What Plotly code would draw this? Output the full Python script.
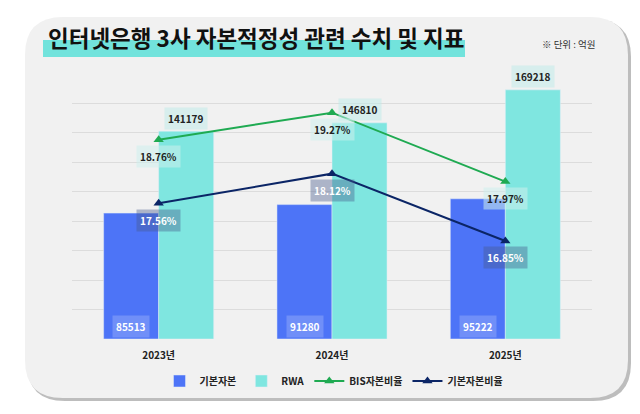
import plotly.graph_objects as go

# data
years = ["2023년", "2024년", "2025년"]
base_capital = [85513, 91280, 95222]
rwa = [141179, 146810, 169218]
bis_ratio = [18.76, 19.27, 17.97]
base_ratio = [17.56, 18.12, 16.85]

FONT = "Noto Sans CJK KR"
BLUE = "#4d74f7"
TEAL = "#7fe6e0"
GREEN = "#1faa52"
NAVY = "#0b2566"

# plot area in pixels (640x414 page)
L, R, T, B = 72, 592, 74, 339


def px(x):
    return (x - L) / (R - L)


def py(y):
    return (B - y) / (B - T)


def rounded_rect(x0, y0, x1, y1, r):
    pts = [
        ("M", [(x0 + r, y0)]), ("L", [(x1 - r, y0)]), ("Q", [(x1, y0), (x1, y0 + r)]),
        ("L", [(x1, y1 - r)]), ("Q", [(x1, y1), (x1 - r, y1)]), ("L", [(x0 + r, y1)]),
        ("Q", [(x0, y1), (x0, y1 - r)]), ("L", [(x0, y0 + r)]), ("Q", [(x0, y0), (x0 + r, y0)]),
    ]
    out = ""
    for cmd, coords in pts:
        out += cmd + " " + " ".join(f"{px(a):.4f},{py(b):.4f}" for a, b in coords) + " "
    return out + "Z"


fig = go.Figure()
fig.add_trace(go.Bar(x=years, y=base_capital, name="기본자본", marker_color=BLUE))
fig.add_trace(go.Bar(x=years, y=rwa, name="RWA", marker_color=TEAL))
fig.add_trace(go.Scatter(x=years, y=bis_ratio, name="BIS자본비율", yaxis="y2", mode="lines+markers",
                         line=dict(color=GREEN, width=2),
                         marker=dict(symbol="triangle-up", size=9, color=GREEN)))
fig.add_trace(go.Scatter(x=years, y=base_ratio, name="기본자본비율", yaxis="y2", mode="lines+markers",
                         line=dict(color=NAVY, width=2),
                         marker=dict(symbol="triangle-up", size=9, color=NAVY)))

label_font = dict(family=FONT, size=10, weight="bold")
annotations = []
for yr, v in zip(years, base_capital):
    annotations.append(dict(x=yr, y=0, xshift=-27.5, yshift=13, text=str(v), showarrow=False,
                            font=dict(label_font, color="white"), bgcolor="rgba(255,255,255,0.2)",
                            borderpad=3))
for yr, v in zip(years, rwa):
    annotations.append(dict(x=yr, y=v, xshift=27.5, yshift=13, text=str(v), showarrow=False,
                            font=dict(label_font, color="#222"), bgcolor="rgba(190,236,233,0.5)",
                            borderpad=3))
for yr, v in zip(years, bis_ratio):
    annotations.append(dict(x=yr, y=v, yref="y2", yshift=-17, text=f"{v:.2f}%", showarrow=False,
                            font=dict(label_font, color="#222"), bgcolor="rgba(205,238,236,0.55)",
                            borderpad=3))
for yr, v in zip(years, base_ratio):
    annotations.append(dict(x=yr, y=v, yref="y2", yshift=-17, text=f"{v:.2f}%", showarrow=False,
                            font=dict(label_font, color="white"), bgcolor="rgba(70,90,140,0.4)",
                            borderpad=3))

annotations.append(dict(xref="paper", yref="paper", x=px(46), y=py(37), xanchor="left", yanchor="middle",
                        text="인터넷은행 3사 자본적정성 관련 수치 및 지표", showarrow=False,
                        font=dict(family=FONT, size=22.5, weight="bold", color="#111")))
annotations.append(dict(xref="paper", yref="paper", x=px(598), y=py(44), xanchor="right", yanchor="middle",
                        text="※ 단위 : 억원", showarrow=False,
                        font=dict(family=FONT, size=9.5, color="#333")))

shapes = [
    dict(type="path", xref="paper", yref="paper", layer="below", line=dict(width=0),
         fillcolor="#bdbdbd", path=rounded_rect(27, 19, 631, 401, 38)),
    dict(type="path", xref="paper", yref="paper", layer="below", line=dict(width=0),
         fillcolor="#f1f1f1", path=rounded_rect(25, 17, 628, 398, 38)),
    dict(type="rect", xref="paper", yref="paper", layer="below", line=dict(width=0),
         fillcolor="#72e3dc", x0=px(43), x1=px(465), y0=py(57), y1=py(40)),
]

fig.update_layout(
    width=640, height=414,
    margin=dict(l=L, r=640 - R, t=T, b=414 - B, autoexpand=False),
    paper_bgcolor="white",
    plot_bgcolor="rgba(0,0,0,0)",
    barmode="group",
    bargap=0.365,
    bargroupgap=0,
    font=dict(family=FONT, color="#222"),
    showlegend=True,
    legend=dict(orientation="h", x=px(334), xanchor="center", y=py(381), yanchor="middle",
                font=dict(family=FONT, size=10, weight="bold", color="#222"),
                bgcolor="rgba(0,0,0,0)", itemwidth=30, tracegroupgap=0),
    xaxis=dict(showgrid=False, showline=False, ticks="", ticklabelstandoff=9,
               tickfont=dict(family=FONT, size=10, weight="bold", color="#222")),
    yaxis=dict(range=[0, 180000], dtick=20000, showticklabels=False, gridcolor="#dcdcdc",
               gridwidth=1, zeroline=False, showline=False),
    yaxis2=dict(range=[15, 20], overlaying="y", side="right", showticklabels=False,
                showgrid=False, zeroline=False, showline=False),
    annotations=annotations,
    shapes=shapes,
)

# remove the default page margin so the figure sits at the window's corner
fig.write_html("out.html", config={"displayModeBar": False},
               post_script="document.body.style.margin='0';")
